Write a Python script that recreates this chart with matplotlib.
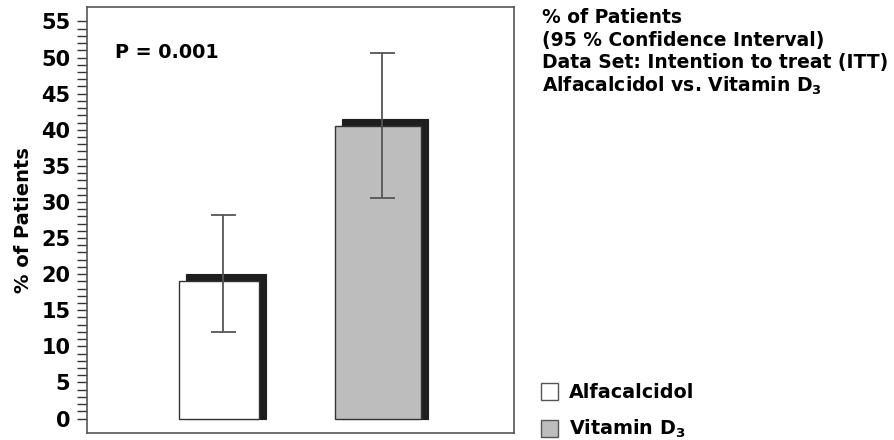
import matplotlib.pyplot as plt
from matplotlib.patches import Rectangle
from matplotlib.ticker import FixedLocator, MultipleLocator

plt.rcParams["font.family"] = "DejaVu Sans"
plt.rcParams["font.weight"] = "bold"

# data
groups = ["Alfacalcidol", "Vitamin D$_3$"]
pct = [19.0, 40.5]
ci_low = [12.0, 30.6]
ci_high = [28.2, 50.6]
p_text = "P = 0.001"
info_lines = [
    "% of Patients",
    "(95 % Confidence Interval)",
    "Data Set: Intention to treat (ITT)",
    "Alfacalcidol vs. Vitamin D$_3$",
]

fills = ["white", "#bdbdbd"]
widths = [0.50, 0.54]
shadow = "#1e1e1e"
dx, dy = 0.045, 1.0

fig = plt.figure(figsize=(8.95, 4.4), dpi=100)
ax = fig.add_axes([0.0972, 0.0159, 0.4771, 0.9682])

xs = [1, 2]
for x, h, w, c in zip(xs, pct, widths, fills):
    ax.add_patch(Rectangle((x - w / 2 + dx, 0), w, h + dy, facecolor=shadow,
                           edgecolor=shadow, linewidth=0.8, zorder=2))
    ax.add_patch(Rectangle((x - w / 2, 0), w, h, facecolor=c,
                           edgecolor="#333333", linewidth=1.0, zorder=3))

err_lo = [p - lo for p, lo in zip(pct, ci_low)]
err_hi = [hi - p for p, hi in zip(pct, ci_high)]
ax.errorbar([x + dx / 2 for x in xs], pct, yerr=[err_lo, err_hi], fmt="none",
            ecolor="#555555", elinewidth=1.3, capsize=9, capthick=1.3, zorder=4)

ax.set_xlim(0.17, 2.855)
ax.set_ylim(-2, 57)
ax.set_xticks([])
ax.yaxis.set_major_locator(MultipleLocator(5))
ax.yaxis.set_minor_locator(FixedLocator([v for v in range(0, 56) if v % 5]))
ax.tick_params(axis="y", which="both", direction="out", length=7, width=1,
               color="#333333", labelsize=15, pad=5)
for s in ax.spines.values():
    s.set_color("#555555")
    s.set_linewidth(1.2)
ax.set_ylabel("% of Patients", fontsize=14, fontweight="bold", labelpad=6)

ax.text(0.065, 0.894, p_text, transform=ax.transAxes, fontsize=13.8,
        fontweight="bold", va="center")

for i, line in enumerate(info_lines):
    fig.text(0.606, 0.961 - i * 0.052, line, fontsize=13.5, fontweight="bold",
             va="center")

# legend squares
for i, (g, c) in enumerate(zip(groups, fills)):
    yc = 0.109 - i * 0.084
    fig.patches.append(Rectangle((0.604, yc - 0.019), 0.019, 0.039,
                                 transform=fig.transFigure, facecolor=c,
                                 edgecolor="#555555", linewidth=1.0))
    fig.text(0.636, yc, g, fontsize=13.8, fontweight="bold", va="center")

fig.savefig("out.png", dpi=100)
